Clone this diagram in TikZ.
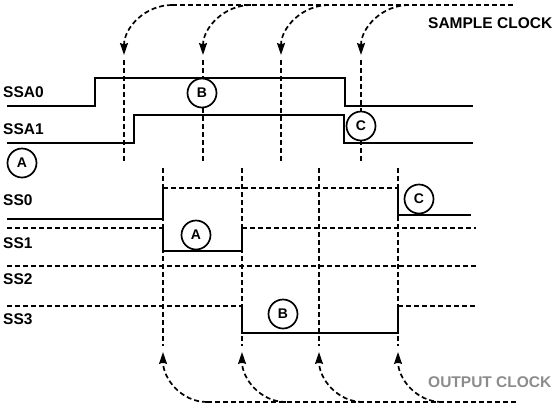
\documentclass[tikz,border=0pt]{standalone}
\usepackage{fontspec}
\setmainfont{Liberation Sans}
\usetikzlibrary{arrows.meta}
\tikzset{sig/.style={line width=2pt, line join=miter},
clk/.style={line width=1.7pt, dash pattern=on 5pt off 3pt},
%clock arrows, solid head
clkarr/.style={clk, -{Stealth[length=12pt,width=8pt,inset=1.5pt]}},
tag/.style={circle, draw, line width=1.7pt, minimum size=29pt, inner sep=0pt, font=\fontsize{14}{14}\bfseries},
lbl/.style={anchor=west, inner sep=0pt, font=\fontsize{15.5}{16}\bfseries}}

\begin{document}
\begin{tikzpicture}[x=1pt,y=-1pt]
\useasboundingbox (0,0) rectangle (556,405);

% sample clock
\draw[clk] (172,5)--(514,5);
\draw[clkarr] (172,5) to[out=180,in=90] (124,55);
\draw[clkarr] (251,5) to[out=180,in=90] (203,55);
\draw[clkarr] (329,5) to[out=180,in=90] (281,55);
\draw[clkarr] (409,5) to[out=180,in=90] (361,55);
\draw[clk] (124,60)--(124,162);
\draw[clk] (203,60)--(203,162);
\draw[clk] (281,60)--(281,162);
\draw[clk] (361,60)--(361,162);
\node[lbl] (sclk) at (428,23) {SAMPLE CLOCK};

% SSA0 and SSA1
\node[lbl] (ssa0) at (3,92) {SSA0};
\node[lbl] (ssa1) at (3,129) {SSA1};
\draw[sig] (7,106)--(95,106)--(95,78)--(345,78)--(345,106)--(473,106);
\draw[sig] (7,143)--(134,143)--(134,115)--(344,115)--(344,143)--(473,143);
\node[tag, fill=white] (tagB1) at (202,93) {B};
\node[tag, fill=white] (tagC1) at (361,126) {C};
\node[tag] (tagA1) at (22,163) {A};

% output clock
\draw[clk] (163,168)--(163,346);
\draw[clk] (242,168)--(242,346);
\draw[clk] (319,168)--(319,346);
\draw[clk] (398,168)--(398,346);
\draw[clkarr] (207,402) to[out=180,in=-90] (163,352);
\draw[clkarr] (286,402) to[out=180,in=-90] (242,352);
\draw[clkarr] (363,402) to[out=180,in=-90] (319,352);
\draw[clkarr] (442,402) to[out=180,in=-90] (398,352);
\draw[clk] (207,402)--(516,402);
\node[lbl, text=black!45] (oclk) at (428,382) {OUTPUT CLOCK};

% SS0 .. SS3
\node[lbl] (ss0) at (3,200) {SS0};
\node[lbl] (ss1) at (3,243) {SS1};
\node[lbl] (ss2) at (3,279) {SS2};
\node[lbl] (ss3) at (3,319) {SS3};
% SS0
\draw[sig] (7,219)--(163,219)--(163,188);
\draw[clk] (163,188)--(398,188);
\draw[sig] (398,188)--(398,215)--(471,215);
\node[tag] (tagC2) at (419,199) {C};
% SS1
\draw[clk] (7,228)--(163,228);
\draw[sig] (163,228)--(163,251)--(242,251)--(242,228);
\draw[clk] (242,228)--(476,228);
\node[tag] (tagA2) at (196,235) {A};
% SS2
\draw[clk] (7,266)--(476,266);
% SS3
\draw[clk] (7,306)--(242,306);
\draw[sig] (242,306)--(242,333)--(398,333)--(398,306);
\draw[clk] (398,306)--(476,306);
\node[tag] (tagB2) at (283,314) {B};
\end{tikzpicture}
\end{document}
